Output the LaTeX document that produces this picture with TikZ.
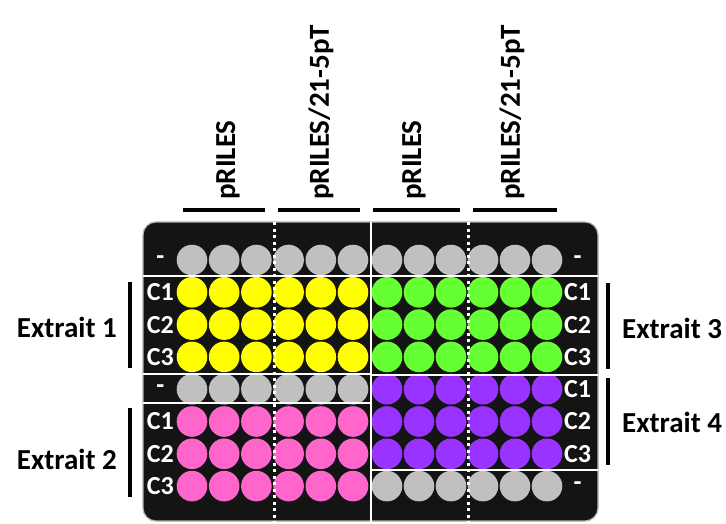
\documentclass[tikz,border=0pt]{standalone}
\usepackage{fontspec}
\setmainfont{Carlito}
\usetikzlibrary{positioning}

\definecolor{wellgrey}{RGB}{192,192,192}
\definecolor{wellyellow}{RGB}{255,255,0}
\definecolor{wellgreen}{RGB}{102,255,51}
\definecolor{wellpink}{RGB}{255,102,204}
\definecolor{wellpurple}{RGB}{153,51,255}
\definecolor{platebg}{RGB}{20,20,20}

\begin{document}
\begin{tikzpicture}[
  x=1pt, y=-1pt,
  plate/.style={fill=platebg, draw=gray!60, line width=1.2pt, rounded corners=13pt},
  well/.style={circle, minimum size=30.6pt, inner sep=0pt},
  rowlab/.style={text=white, minimum width=27pt, inner sep=0pt,
                 font=\bfseries\fontsize{26}{26}\selectfont},
  hdr/.style={rotate=90, anchor=west, inner sep=0pt,
              font=\bfseries\fontsize{29}{29}\selectfont},
  ext/.style={inner sep=0pt, font=\bfseries\fontsize{29}{29}\selectfont},
  bar/.style={line width=4pt},
  sep/.style={white, line width=2.5pt},
  dotsep/.style={white, line width=3pt, dash pattern=on 3pt off 3.5pt}
]
\useasboundingbox (0,0) rectangle (726,523);

% plate
\draw[plate] (143,222) rectangle (598,521);

% wells and row labels
\foreach \r/\lc/\rc/\ll/\rl in {1/wellgrey/wellgrey/-/-,
    2/wellyellow/wellgreen/C1/C1, 3/wellyellow/wellgreen/C2/C2,
    4/wellyellow/wellgreen/C3/C3, 5/wellgrey/wellpurple/-/C1,
    6/wellpink/wellpurple/C1/C2, 7/wellpink/wellpurple/C2/C3,
    8/wellpink/wellgrey/C3/-} {
  \foreach \c in {1,...,6} {
    \node[well, fill=\lc] (wl-\r-\c) at ({192+32.2*(\c-1)}, {260+32.3*(\r-1)}) {};
    \node[well, fill=\rc] (wr-\r-\c) at ({387+32*(\c-1)}, {260+32.3*(\r-1)}) {};
  }
  \node[rowlab, left=2.5pt of wl-\r-1] (ll-\r) {\ll};
  \node[rowlab, right=1.5pt of wr-\r-6] (rl-\r) {\rl};
}

% separators
\draw[sep] (143,276) -- (598,276);
\draw[sep] (143,374) -- (371,374);
\draw[sep] (143,403) -- (371,403);
\draw[sep] (371,375) -- (598,375);
\draw[sep] (371,470) -- (598,470);
\draw[sep] (371,222) -- (371,523);
\draw[dotsep] (274,222) -- (274,523);
\draw[dotsep] (468,222) -- (468,523);

% column headers
\node[hdr] (h1) at (228,200) {pRILES};
\node[hdr] (h2) at (321,200) {pRILES/21-5pT};
\node[hdr] (h3) at (414,200) {pRILES};
\node[hdr] (h4) at (512,200) {pRILES/21-5pT};
\draw[bar] (183,210) -- (265,210);
\draw[bar] (278,210) -- (360,210);
\draw[bar] (373,210) -- (460,210);
\draw[bar] (473,210) -- (557,210);

% extracts
\node[ext, anchor=east] (e1) at (117,327) {Extrait 1};
\node[ext, anchor=east] (e2) at (117,459) {Extrait 2};
\node[ext, anchor=west] (e3) at (622,328) {Extrait 3};
\node[ext, anchor=west] (e4) at (622,422) {Extrait 4};
\draw[bar] (130,282) -- (130,368);
\draw[bar] (130,408) -- (130,497);
\draw[bar] (608,283) -- (608,369);
\draw[bar] (608,378) -- (608,465);
\end{tikzpicture}
\end{document}
